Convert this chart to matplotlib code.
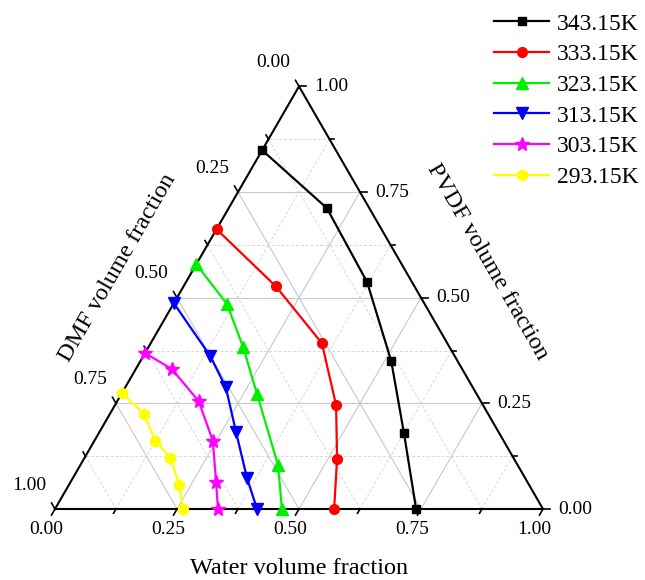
import numpy as np
import matplotlib
matplotlib.use("Agg")
import matplotlib.pyplot as plt

plt.rcParams['font.family'] = ['Liberation Serif', 'DejaVu Serif']

labels = ["343.15K", "333.15K", "323.15K", "313.15K", "303.15K", "293.15K"]
colors = ["black", "red", "#00f000", "blue", "magenta", "yellow"]
markers = ["s", "o", "^", "v", "*", "h"]

# Water and PVDF volume fractions (DMF = 1 - water - PVDF)
water = [
    [0.0, 0.201, 0.371, 0.514, 0.625, 0.740],
    [0.0, 0.189, 0.351, 0.453, 0.519, 0.572],
    [0.0, 0.110, 0.194, 0.278, 0.405, 0.465],
    [0.0, 0.137, 0.206, 0.280, 0.357, 0.414],
    [0.0, 0.074, 0.167, 0.243, 0.298, 0.334],
    [0.0, 0.070, 0.125, 0.176, 0.226, 0.262],
]
pvdf = [
    [0.849, 0.712, 0.537, 0.350, 0.180, 0.0],
    [0.662, 0.527, 0.392, 0.246, 0.118, 0.0],
    [0.579, 0.485, 0.383, 0.272, 0.104, 0.0],
    [0.487, 0.362, 0.288, 0.182, 0.073, 0.0],
    [0.369, 0.331, 0.255, 0.161, 0.064, 0.0],
    [0.274, 0.225, 0.161, 0.121, 0.057, 0.0],
]
tick_vals = [0.0, 0.25, 0.5, 0.75, 1.0]
tick_text = ["0.00", "0.25", "0.50", "0.75", "1.00"]

H = np.sqrt(3) / 2


def xy(w, p):
    w = np.asarray(w, float)
    p = np.asarray(p, float)
    return w + p / 2, p * H


W_PX, H_PX = 645, 580
S = 488.0
X0, Y0 = 55.0, 509.0

fig = plt.figure(figsize=(W_PX / 100, H_PX / 100), dpi=100)
ax = fig.add_axes([0, 0, 1, 1])
ax.set_xlim(-X0 / S, (W_PX - X0) / S)
ax.set_ylim(-(H_PX - Y0) / S, Y0 / S)
ax.axis('off')

# grid lines
for k in range(1, 8):
    v = k / 8
    solid = (k % 2 == 0)
    kw = dict(color='#c8c8c8', lw=0.8, zorder=1) if solid else dict(color='#d8d8d8', lw=0.7, ls=(0, (3, 2)), zorder=1)
    # PVDF constant (horizontal)
    x, y = xy([0, 1 - v], [v, v])
    ax.plot(x, y, **kw)
    # Water constant (parallel to left edge)
    x, y = xy([v, v], [0, 1 - v])
    ax.plot(x, y, **kw)
    # DMF constant (parallel to right edge)
    x, y = xy([1 - v, 0], [0, 1 - v])
    ax.plot(x, y, **kw)

# triangle
x, y = xy([0, 1, 0, 0], [0, 0, 1, 0])
ax.plot(x, y, color='black', lw=1.5, zorder=3, solid_joinstyle='miter')

# ticks
tl = 7 / S
for k in range(0, 9):
    v = k / 8
    L = tl if k % 2 == 0 else tl * 0.7
    # bottom (water): direction down-left
    bx, by = xy(v, 0)
    ax.plot([bx, bx - 0.5 * L], [by, by - H * L], color='black', lw=1.2, zorder=3)
    # right (pvdf): horizontal right
    rx, ry = xy(1 - v, v)
    ax.plot([rx, rx + L], [ry, ry], color='black', lw=1.2, zorder=3)
    # left (dmf): up-left
    lx, ly = xy(0, 1 - v)
    ax.plot([lx, lx - 0.5 * L], [ly, ly + H * L], color='black', lw=1.2, zorder=3)

tfs = 14
for v, t in zip(tick_vals, tick_text):
    bx, by = xy(v, 0)
    ax.text(bx - 9 / S, by - 21 / S, t, fontsize=tfs, ha='center', va='center')
    rx, ry = xy(1 - v, v)
    ax.text(rx + 15 / S, ry, t, fontsize=tfs, ha='left', va='center')
    lx, ly = xy(0, 1 - v)
    ax.text(lx - 25.5 / S, ly + 24 / S, t, fontsize=tfs, ha='center', va='center')

afs = 17.5
ax.text((299 - X0) / S, (Y0 - 568) / S, "Water volume fraction", fontsize=afs, ha='center', va='center')
ax.text((118 - X0) / S, (Y0 - 268) / S, "DMF volume fraction", fontsize=afs, ha='center', va='center', rotation=60, rotation_mode='anchor')
ax.text((487 - X0) / S, (Y0 - 262) / S, "PVDF volume fraction", fontsize=afs, ha='center', va='center', rotation=-60, rotation_mode='anchor')

msizes = [6, 7, 8, 8, 10, 8]
handles = []
for w, p, c, m, lab, ms in zip(water, pvdf, colors, markers, labels, msizes):
    x, y = xy(w, p)
    h, = ax.plot(x, y, color=c, marker=m, ms=ms, lw=1.6, label=lab, zorder=4, clip_on=False)
    handles.append(h)

leg = fig.legend(handles=handles, loc='upper left', bbox_to_anchor=(494 / W_PX, 1 - 13 / H_PX),
                 frameon=False, fontsize=17, handlelength=2.35, handletextpad=0.3,
                 labelspacing=0.39, borderpad=0, borderaxespad=0)

fig.savefig("out.png", dpi=100)
